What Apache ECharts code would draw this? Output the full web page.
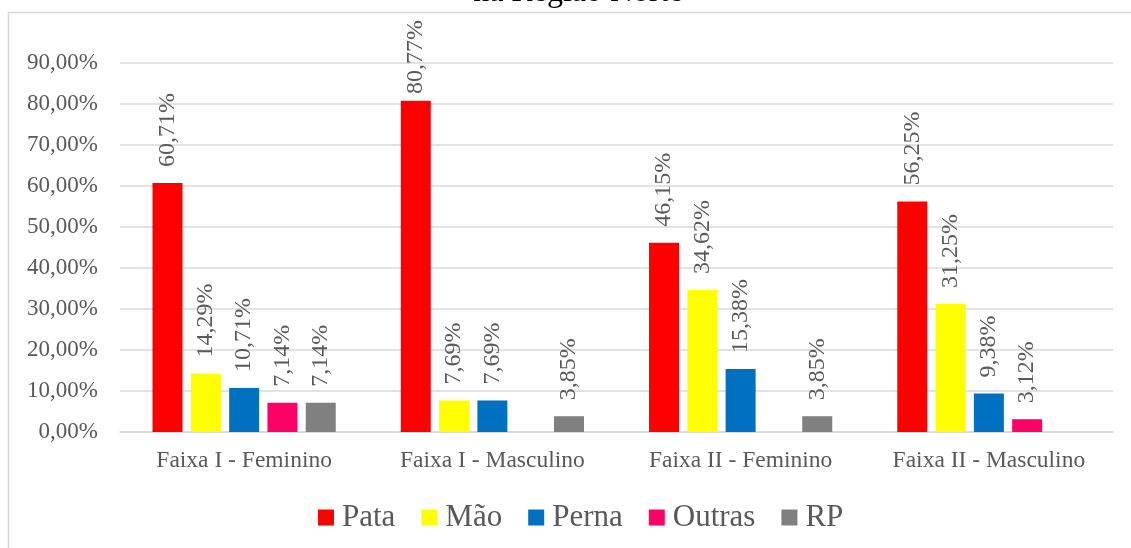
<!DOCTYPE html>
<html><head><meta charset="utf-8">
<script src="https://cdn.jsdelivr.net/npm/echarts@6/dist/echarts.min.js"></script>
<style>html,body{margin:0;padding:0;background:#fff}#c{width:1131px;height:548px}</style>
</head><body><div id="c"></div>
<script>
const categories = ['Faixa I - Feminino', 'Faixa I - Masculino', 'Faixa II - Feminino', 'Faixa II - Masculino'];
const seriesNames = ['Pata', 'Mão', 'Perna', 'Outras', 'RP'];
const pata = [60.71, 80.77, 46.15, 56.25];
const mao = [14.29, 7.69, 34.62, 31.25];
const perna = [10.71, 7.69, 15.38, 9.38];
const outras = [7.14, null, null, 3.12];
const rp = [7.14, 3.85, 3.85, null];
const colors = ['#FF0000', '#FFFF00', '#0070C0', '#FF0066', '#808080'];
const yTicks = {min: 0, max: 90, interval: 10};

const font = '"Liberation Serif", "Times New Roman", serif';
const fmt = v => v.toFixed(2).replace('.', ',') + '%';
const data = [pata, mao, perna, outras, rp];
const LABEL_DIST = 16, LABEL_SIZE = 24, MIN_TOP = 20;

const chart = echarts.init(document.getElementById('c'), null, {renderer: 'canvas'});
chart.setOption({
  animation: false,
  backgroundColor: '#fff',
  title: {
    text: 'na Região Norte',
    left: 573, textAlign: 'center', top: -28,
    textStyle: {fontFamily: font, fontSize: 32, fontWeight: 'normal', color: '#000'}
  },
  graphic: [{
    type: 'rect', shape: {x: 8.5, y: 12.5, width: 1140, height: 560},
    style: {fill: 'none', stroke: '#d9d9d9', lineWidth: 1.5}, silent: true, z: -1
  }],
  legend: {
    left: 313, top: 497,
    itemWidth: 16, itemHeight: 16, itemGap: 26,
    icon: 'rect',
    textStyle: {fontFamily: font, fontSize: 31, color: '#595959', padding: [0, 0, 0, 3]},
    data: seriesNames
  },
  grid: {left: 120, right: 18, top: 63, bottom: 116, containLabel: false},
  xAxis: {
    type: 'category', data: categories,
    axisLine: {show: true, lineStyle: {color: '#d9d9d9', width: 1.5}},
    axisTick: {show: false},
    axisLabel: {fontFamily: font, fontSize: 23.5, color: '#595959', margin: 17, interval: 0}
  },
  yAxis: {
    type: 'value', min: yTicks.min, max: yTicks.max, interval: yTicks.interval,
    axisLine: {show: false}, axisTick: {show: false},
    splitLine: {lineStyle: {color: '#d9d9d9', width: 1.5}},
    axisLabel: {fontFamily: font, fontSize: 23, color: '#595959', margin: 22,
      formatter: v => v.toFixed(2).replace('.', ',') + '%'}
  },
  series: seriesNames.map((n, i) => ({
    name: n, type: 'bar', data: data[i],
    barWidth: 30, barGap: '27.7%', barCategoryGap: '26%',
    itemStyle: {color: colors[i]},
    label: {
      show: true, position: 'top', rotate: 90, align: 'left', verticalAlign: 'middle',
      distance: LABEL_DIST, fontFamily: font, fontSize: LABEL_SIZE, color: '#595959',
      formatter: p => p.value == null ? '' : fmt(p.value)
    }
  }))
});

// Keep labels inside the chart frame (like the original), using the axis scale.
const measure = t => {
  const c = document.createElement('canvas').getContext('2d');
  c.font = LABEL_SIZE + 'px ' + font;
  return c.measureText(t).width;
};
chart.setOption({
  series: data.map(arr => ({
    data: arr.map(v => {
      if (v == null) return v;
      const barTop = chart.convertToPixel({yAxisIndex: 0}, v);
      const top = barTop - LABEL_DIST - measure(fmt(v));
      if (top < MIN_TOP) return {value: v, label: {distance: LABEL_DIST - (MIN_TOP - top)}};
      return v;
    })
  }))
});
</script></body></html>
